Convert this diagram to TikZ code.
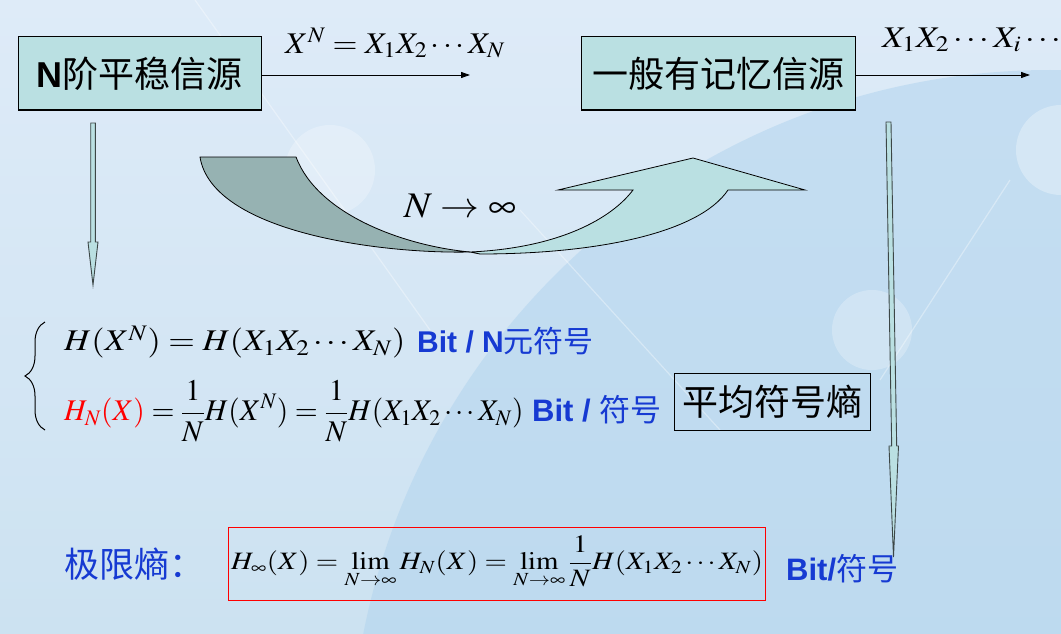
\documentclass[tikz,border=0pt]{standalone}
\usepackage{graphicx}
\usepackage{mathptmx}
\usepackage[no-math]{fontspec}
\setmainfont{Liberation Serif}
\newfontfamily\cjk{Noto Sans CJK SC}
\newfontfamily\arial{Liberation Sans}
\usetikzlibrary{arrows.meta,decorations.pathreplacing}
\definecolor{bgtop}{RGB}{222,235,248}
\definecolor{bgbot}{RGB}{204,226,241}
\definecolor{circc}{RGB}{178,212,238}
\definecolor{boxfill}{RGB}{186,224,226}
\definecolor{darkfill}{RGB}{150,178,178}
\definecolor{blu}{RGB}{22,58,210}
\definecolor{outl}{RGB}{60,70,70}
\tikzset{
  srcbox/.style={draw=black, line width=1pt, fill=boxfill, inner sep=0pt, font=\fontsize{36}{40}\selectfont},
  conn/.style={line width=0.9pt, -{Triangle[length=9pt,width=6pt]}},
  hollow/.style={fill=boxfill, draw=outl, line width=0.9pt, line join=miter},
  mathlbl/.style={inner sep=0pt, font=\fontsize{30}{32}\selectfont},
  bluetxt/.style={inner sep=0pt, text=blu, font=\fontsize{30}{32}\selectfont},
}
\begin{document}
\begin{tikzpicture}[x=1pt,y=-1pt]
\useasboundingbox (0,0) rectangle (1061,634);
% background
\shade[top color=bgtop, bottom color=bgbot] (0,0) rectangle (1061,634);
\begin{scope}
\clip (0,0) rectangle (1061,634);
\fill[circc, opacity=0.55] (1050,770) circle [radius=700pt];
\draw[white, opacity=0.35, line width=1.2pt] (195,0) -- (430,330);
\draw[white, opacity=0.35, line width=1.2pt] (520,210) -- (720,430);
\draw[white, opacity=0.35, line width=1.2pt] (1010,180) -- (880,380);
\fill[white, opacity=0.3] (1061,150) circle [radius=45pt];
\fill[white, opacity=0.25] (330,170) circle [radius=45pt];
\fill[white, opacity=0.25] (872,330) circle [radius=40pt];
\end{scope}

% source boxes
\node[srcbox, minimum width=243pt, minimum height=73pt] (b1) at (139.5,73.5) {{\arial\bfseries N}\cjk 阶平稳信源};
\node[srcbox, minimum width=274pt, minimum height=73pt] (b2) at (718,73.5) {\cjk 一般有记忆信源};

\coordinate (e1) at (470,75);
\coordinate (e2) at (1030,75);
\draw[conn] (b1.east |- e1) -- (e1);
\draw[conn] (b2.east |- e2) -- (e2);
\node[mathlbl] (l1) at (395,43) {\scalebox{1.07}[1]{$X^N = X_1X_2\cdots X_N$}};
\node[mathlbl, anchor=west] (l2) at (882,40) {\scalebox{1.15}[1]{$X_1X_2\cdots X_i\cdots$}};

% hollow down arrows
\draw[hollow] (90.7,123) -- (95.3,123) -- (95.3,242) -- (98,242) -- (93,285) -- (88,242) -- (90.7,242) -- cycle;
\draw[hollow] (886,122) -- (891,122) -- (896.7,446) -- (898.5,446) -- (893.5,557) -- (889,446) -- (891.7,446) -- cycle;

% curved arrow
\draw[fill=darkfill, draw=black, line width=0.8pt] (200,157) -- (296,157)
   .. controls (318,215) and (405,246) .. (470,252)
   .. controls (380,254) and (212,232) .. (200,157) -- cycle;
\draw[fill=boxfill, draw=black, line width=0.8pt] (470,252)
   .. controls (560,248) and (612,218) .. (633,190)
   -- (558,190) -- (693,158) -- (805,190) -- (728,190)
   .. controls (700,232) and (600,254) .. (480,254) -- cycle;
\node[inner sep=0pt, font=\fontsize{36}{38}\selectfont] (lim) at (460,206) {\scalebox{1.08}[1]{$N\rightarrow\infty$}};

% brace and equations
\draw[line width=1pt, decorate, decoration={brace, amplitude=20pt, aspect=0.5}] (45,430) -- (45,322);
\node[mathlbl, anchor=west] (eq1) at (64,342) {\scalebox{1.14}[1]{$H(X^N) = H(X_1X_2\cdots X_N)$}};
\node[bluetxt, anchor=west] (u1) at (417,341) {{\arial\bfseries Bit / N}\cjk 元符号};
\node[mathlbl, anchor=west] (eq2) at (64,411) {\scalebox{0.985}[1]{$\displaystyle {\color{red}H_N(X)} = \frac{1}{N}H(X^N) = \frac{1}{N}H(X_1X_2\cdots X_N)$}};
\node[bluetxt, anchor=west, font=\fontsize{31}{33}\selectfont] (u2) at (532,410) {{\arial\bfseries Bit / }\cjk 符号};
\node[draw=black, line width=1pt, minimum width=196pt, minimum height=57pt, inner sep=0pt, font=\fontsize{36}{40}\selectfont] (avg) at (772,401.5) {\cjk 平均符号熵};

% limit entropy
\node[inner sep=0pt, text=blu, font=\fontsize{35}{38}\selectfont, anchor=west] (jx) at (64,564) {\cjk 极限熵：};
\node[draw=red, line width=1pt, minimum width=537pt, minimum height=73pt, inner sep=0pt] (rb) at (496.5,563.5) {};
\node[inner sep=0pt, font=\fontsize{25}{27}\selectfont] (feq) at (497,562) {\scalebox{1.15}[1]{$\displaystyle H_\infty(X) = \lim_{N\to\infty} H_N(X) = \lim_{N\to\infty}\frac{1}{N}H(X_1X_2\cdots X_N)$}};
\node[bluetxt, anchor=west, font=\fontsize{31}{33}\selectfont] (u3) at (786,569) {{\arial\bfseries Bit/}\cjk 符号};
\end{tikzpicture}
\end{document}
